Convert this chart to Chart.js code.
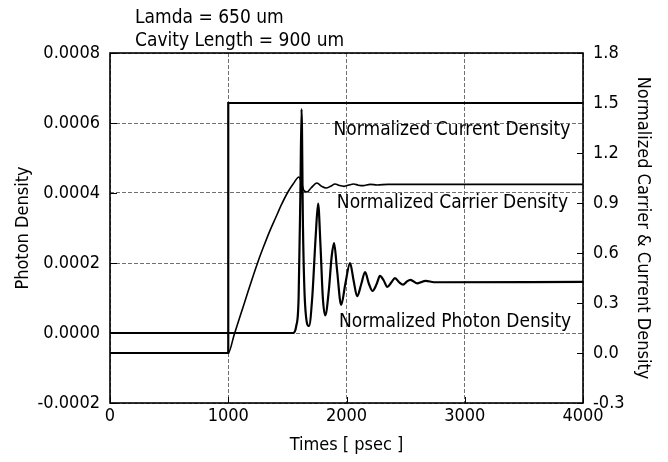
<!DOCTYPE html>
<html>
<head>
<meta charset="utf-8">
<script src="https://cdn.jsdelivr.net/npm/chart.js@4/dist/chart.umd.min.js"></script>
<style>
  html, body { margin: 0; padding: 0; background: #fff; }
  #c { display: block; }
</style>
</head>
<body>
<canvas id="c" width="668" height="462"></canvas>
<script>
// ---- Data ----
const headerLines = ["Lamda = 650 um", "Cavity Length = 900 um"];
const xTitle = "Times [ psec ]";
const yLeftTitle = "Photon Density";
const yRightTitle = "Normalized Carrier & Current Density";

const currentTime  = [0, 1000, 1000, 4000];
const currentValue = [0, 0, 1.5, 1.5];

const carrierTime  = [0, 1000, 1050, 1100, 1150, 1200, 1250, 1300, 1350, 1400, 1450, 1500, 1550, 1598, 1615, 1640, 1666, 1700, 1750, 1790, 1827, 1865, 1903, 1940, 1980, 2020, 2060, 2100, 2140, 2200, 2260, 2350, 4000];
const carrierValue = [0, 0, 0.11, 0.22, 0.33, 0.44, 0.545, 0.64, 0.73, 0.81, 0.89, 0.96, 1.015, 1.056, 1.03, 0.975, 0.966, 0.99, 1.02, 1.0, 0.99, 1.0, 1.014, 1.005, 1.0, 1.008, 1.014, 1.007, 1.004, 1.012, 1.008, 1.012, 1.012];

const photonTime  = [0, 1548, 1575, 1595, 1610, 1620, 1632, 1650, 1683, 1710, 1740, 1760, 1780, 1800, 1820, 1850, 1875, 1895, 1920, 1955, 1990, 2030, 2060, 2090, 2125, 2157, 2190, 2220, 2255, 2283, 2315, 2345, 2380, 2410, 2445, 2478, 2510, 2540, 2600, 2670, 2740, 4000];
const photonValue = [0, 0, 0.00002, 0.0001, 0.0004, 0.00064, 0.0003, 0.00008, 0.00002, 0.0001, 0.00028, 0.00037, 0.00025, 0.0001, 0.00005, 0.00012, 0.00022, 0.000257, 0.00018, 0.00008, 0.00014, 0.0002, 0.00015, 0.000105, 0.00014, 0.000174, 0.00014, 0.00012, 0.00014, 0.000163, 0.00015, 0.000132, 0.000145, 0.000157, 0.000145, 0.000138, 0.000147, 0.000152, 0.000142, 0.000149, 0.000145, 0.000146];

const xTicks = [0, 1000, 2000, 3000, 4000];
const yLeftTicks = [-0.0002, 0, 0.0002, 0.0004, 0.0006, 0.0008];
const yRightTicks = [-0.3, 0, 0.3, 0.6, 0.9, 1.2, 1.5, 1.8];

// annotation labels: [text, x center (psec), baseline on right axis]
const labelTexts = ["Normalized Current Density", "Normalized Carrier Density", "Normalized Photon Density"];
const labelX = [2892, 2896, 2918];
const labelY = [1.308, 0.87, 0.156];

// ---- build ----
const FONT = "'DejaVu Sans Condensed', 'DejaVu Sans', sans-serif";
const pts = (xs, ys) => xs.map((x, i) => ({x: x, y: ys[i]}));

const decorPlugin = {
  id: 'decor',
  afterDatasetsDraw(chart) {
    const ctx = chart.ctx;
    const a = chart.chartArea;
    const sx = chart.scales.x, sy = chart.scales.y, sy2 = chart.scales.y2;
    ctx.save();
    // inside tick marks
    ctx.strokeStyle = '#000';
    ctx.lineWidth = 1;
    ctx.beginPath();
    yLeftTicks.forEach(v => { const p = Math.round(sy.getPixelForValue(v)) + 0.5; ctx.moveTo(a.left, p); ctx.lineTo(a.left + 7, p); });
    yRightTicks.forEach(v => { const p = Math.round(sy2.getPixelForValue(v)) + 0.5; ctx.moveTo(a.right, p); ctx.lineTo(a.right - 6, p); });
    xTicks.forEach(v => { const p = Math.round(sx.getPixelForValue(v)) + 0.5; ctx.moveTo(p, a.bottom); ctx.lineTo(p, a.bottom - 6); });
    ctx.stroke();
    // frame
    ctx.lineWidth = 1.6;
    ctx.strokeRect(a.left, a.top, a.right - a.left, a.bottom - a.top);
    // labels
    ctx.fillStyle = '#000';
    ctx.font = '19px ' + FONT;
    ctx.textAlign = 'center';
    ctx.textBaseline = 'alphabetic';
    labelTexts.forEach((t, i) => {
      ctx.fillText(t, sx.getPixelForValue(labelX[i]), sy2.getPixelForValue(labelY[i]));
    });
    // header
    ctx.textAlign = 'left';
    ctx.font = '19px ' + FONT;
    ctx.fillText(headerLines[0], 135, 23);
    ctx.fillText(headerLines[1], 135, 46);
    ctx.restore();
  }
};

const gridStyle = { color: '#707070', lineWidth: 1, drawTicks: false };

new Chart(document.getElementById('c'), {
  type: 'scatter',
  data: {
    datasets: [
      { label: 'Current', data: pts(currentTime, currentValue), yAxisID: 'y2', showLine: true, borderColor: '#000', borderWidth: 2.2, pointRadius: 0, tension: 0 },
      { label: 'Carrier', data: pts(carrierTime, carrierValue), yAxisID: 'y2', showLine: true, borderColor: '#000', borderWidth: 1.6, pointRadius: 0, cubicInterpolationMode: 'monotone' },
      { label: 'Photon', data: pts(photonTime, photonValue), yAxisID: 'y', showLine: true, borderColor: '#000', borderWidth: 2.2, pointRadius: 0, cubicInterpolationMode: 'monotone' }
    ]
  },
  options: {
    responsive: false,
    animation: false,
    devicePixelRatio: 1,
    layout: { padding: { top: 53, left: 0, right: 0, bottom: 0 } },
    plugins: { legend: { display: false }, tooltip: { enabled: false } },
    scales: {
      x: {
        type: 'linear', min: 0, max: 4000,
        afterBuildTicks: s => { s.ticks = xTicks.map(v => ({value: v})); },
        afterFit: s => { s.height = 59; },
        grid: gridStyle,
        border: { display: false, dash: [4, 2] },
        ticks: { color: '#000', font: { family: FONT, size: 18 }, padding: 3, maxRotation: 0, callback: v => String(v) },
        title: { display: true, text: xTitle, color: '#000', font: { family: FONT, size: 18 }, padding: { top: 0, bottom: 6 } }
      },
      y: {
        type: 'linear', position: 'left', min: -0.0002, max: 0.0008,
        afterBuildTicks: s => { s.ticks = yLeftTicks.map(v => ({value: v})); },
        afterFit: s => { s.width = 110; },
        grid: gridStyle,
        border: { display: false, dash: [4, 2] },
        ticks: { color: '#000', font: { family: FONT, size: 18 }, padding: 10, callback: v => Number(v).toFixed(4) },
        title: { display: true, text: yLeftTitle, color: '#000', font: { family: FONT, size: 18 }, padding: { top: 13, bottom: 0 } }
      },
      y2: {
        type: 'linear', position: 'right', min: -0.3, max: 1.8,
        afterBuildTicks: s => { s.ticks = yRightTicks.map(v => ({value: v})); },
        afterFit: s => { s.width = 85; },
        grid: { display: false, drawTicks: false },
        border: { display: false },
        ticks: { color: '#000', font: { family: FONT, size: 18 }, padding: 10, callback: v => Number(v).toFixed(1) },
        title: { display: true, text: yRightTitle, color: '#000', font: { family: FONT, size: 18 }, padding: { top: 15, bottom: 0 } }
      }
    }
  },
  plugins: [decorPlugin]
});
</script>
</body>
</html>
